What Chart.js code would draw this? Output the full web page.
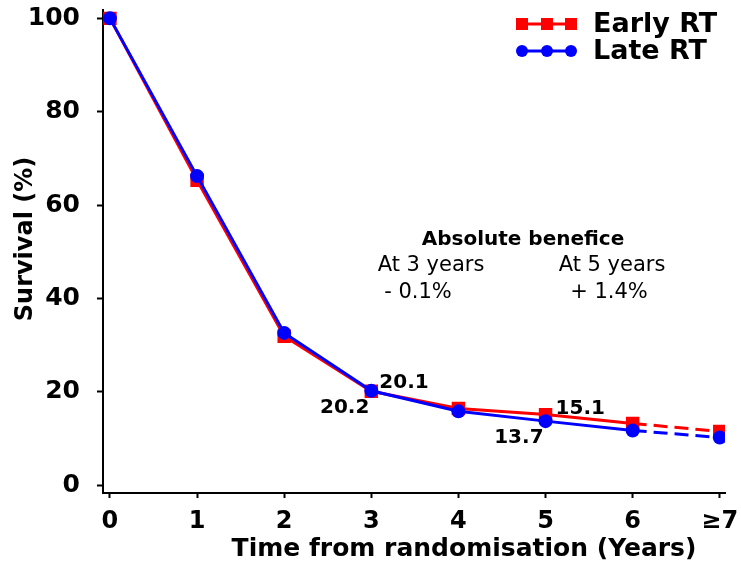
<!DOCTYPE html>
<html>
<head>
<meta charset="utf-8">
<title>Survival - Early vs Late RT</title>
<script src="https://cdn.jsdelivr.net/npm/chart.js@4.4.1/dist/chart.umd.min.js"></script>
<style>
  html, body { margin: 0; padding: 0; background: #fff; }
  #wrap { width: 741px; height: 567px; }
</style>
</head>
<body>
<div id="wrap"><canvas id="chart" width="741" height="567"></canvas></div>
<script>
(function () {
  'use strict';

  // Data
  var years = [0, 1, 2, 3, 4, 5, 6, 7];
  var yearLabels = ['0', '1', '2', '3', '4', '5', '6', '\u22657'];
  var earlyRT = [100, 65.3, 31.9, 20.1, 16.4, 15.1, 13.2, 11.5];
  var lateRT = [100, 66.2, 32.6, 20.2, 15.8, 13.7, 11.7, 10.2];
  var yTicks = [0, 20, 40, 60, 80, 100];
  var seriesNames = ['Early RT', 'Late RT'];

  var RED = '#ff0000';
  var BLUE = '#0000ff';
  var BOLD = '"DejaVu Sans", sans-serif';

  function toXY(vals) {
    return vals.map(function (v, i) { return { x: years[i], y: v }; });
  }

  var dashLast = function (ctx) {
    return ctx.p1DataIndex === years.length - 1 ? [14, 7] : undefined;
  };

  // Axis titles, legend and text notes
  var extras = {
    id: 'extras',
    afterDraw: function (chart) {
      var c = chart.ctx;
      var xs = chart.scales.x, ys = chart.scales.y;
      c.save();
      c.fillStyle = '#000';

      // axis titles
      c.font = 'bold 25px ' + BOLD;
      c.textAlign = 'center';
      c.textBaseline = 'middle';
      c.fillText('Time from randomisation (Years)', 464, 549);
      c.save();
      c.translate(26, 239);
      c.rotate(-Math.PI / 2);
      c.font = 'bold 24px ' + BOLD;
      c.fillText('Survival (%)', 0, 0);
      c.restore();

      // legend
      var rows = [
        { name: seriesNames[0], color: RED, shape: 'rect', y: 24 },
        { name: seriesNames[1], color: BLUE, shape: 'circle', y: 51 }
      ];
      rows.forEach(function (r) {
        c.strokeStyle = r.color;
        c.fillStyle = r.color;
        c.lineWidth = 3;
        c.beginPath();
        c.moveTo(519, r.y);
        c.lineTo(574, r.y);
        c.stroke();
        [522, 547, 571].forEach(function (mx) {
          if (r.shape === 'rect') {
            c.fillRect(mx - 6, r.y - 6, 12, 12);
          } else {
            c.beginPath();
            c.arc(mx, r.y, 6, 0, Math.PI * 2);
            c.fill();
          }
        });
        c.fillStyle = '#000';
        c.font = 'bold 27px ' + BOLD;
        c.textAlign = 'left';
        c.fillText(r.name, 593, r.y + 1);
      });

      // absolute benefit note
      c.textAlign = 'center';
      c.font = 'bold 20px ' + BOLD;
      c.fillText('Absolute benefice', 523, 240);
      c.font = '21px ' + BOLD;
      c.fillText('At 3 years', 431, 266);
      c.fillText('At 5 years', 612, 266);
      c.fillText('- 0.1%', 418, 293);
      c.fillText('+ 1.4%', 609, 293);

      // point value labels at 3 and 5 years
      c.font = 'bold 20px ' + BOLD;
      var px3 = xs.getPixelForValue(years[3]);
      var px5 = xs.getPixelForValue(years[5]);
      c.textAlign = 'left';
      c.fillText(earlyRT[3].toFixed(1), px3 + 8, ys.getPixelForValue(earlyRT[3]) - 8);
      c.fillText(earlyRT[5].toFixed(1), px5 + 10, ys.getPixelForValue(earlyRT[5]) - 6);
      c.textAlign = 'right';
      c.fillText(lateRT[3].toFixed(1), px3 - 2, ys.getPixelForValue(lateRT[3]) + 17);
      c.fillText(lateRT[5].toFixed(1), px5 - 2, ys.getPixelForValue(lateRT[5]) + 17);
      c.restore();
    }
  };

  new Chart(document.getElementById('chart'), {
    type: 'line',
    data: {
      // Late RT listed first so it is drawn over Early RT
      datasets: [{
        label: seriesNames[1],
        data: toXY(lateRT),
        borderColor: BLUE,
        backgroundColor: BLUE,
        borderWidth: 3,
        pointStyle: 'circle',
        pointRadius: 7,
        pointBorderWidth: 0,
        tension: 0,
        segment: { borderDash: dashLast }
      }, {
        label: seriesNames[0],
        data: toXY(earlyRT),
        borderColor: RED,
        backgroundColor: RED,
        borderWidth: 3,
        pointStyle: 'rect',
        pointRadius: 9.5,
        pointBorderWidth: 0,
        tension: 0,
        segment: { borderDash: dashLast }
      }]
    },
    options: {
      responsive: false,
      animation: false,
      layout: { padding: { top: 6, right: 16, left: 0, bottom: 0 } },
      plugins: {
        legend: { display: false },
        tooltip: { enabled: false }
      },
      scales: {
        x: {
          type: 'linear',
          min: -0.08,
          max: 7.06,
          afterBuildTicks: function (scale) {
            scale.ticks = years.map(function (v) { return { value: v }; });
          },
          afterFit: function (scale) {
            scale.height = 74;
            scale.paddingLeft = 0;
            scale.paddingRight = 0;
          },
          grid: { drawOnChartArea: false, tickLength: 5, tickColor: '#000', tickWidth: 2 },
          border: { color: '#000', width: 2 },
          ticks: {
            color: '#000',
            padding: 9,
            maxRotation: 0,
            autoSkip: false,
            font: { family: BOLD, size: 24, weight: 'bold' },
            callback: function (v) { return yearLabels[years.indexOf(v)]; }
          }
        },
        y: {
          min: -1.7,
          max: 101.9,
          afterBuildTicks: function (scale) {
            scale.ticks = yTicks.map(function (v) { return { value: v }; });
          },
          afterFit: function (scale) {
            scale.width = 103;
            scale.paddingTop = 0;
            scale.paddingBottom = 0;
          },
          grid: { drawOnChartArea: false, tickLength: 6, tickColor: '#000', tickWidth: 2 },
          border: { color: '#000', width: 2 },
          ticks: {
            color: '#000',
            padding: 17,
            font: { family: BOLD, size: 25, weight: 'bold' }
          }
        }
      }
    },
    plugins: [extras]
  });
})();
</script>
</body>
</html>
